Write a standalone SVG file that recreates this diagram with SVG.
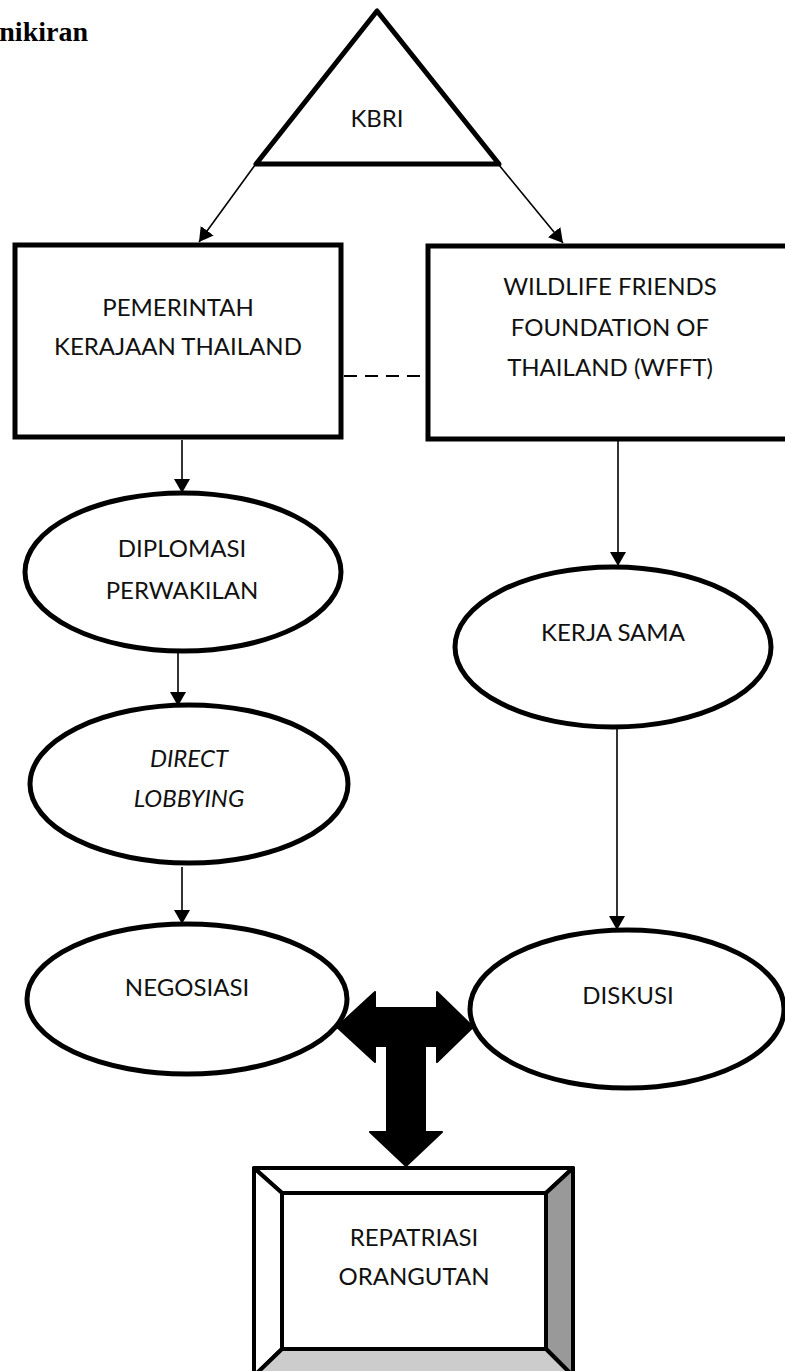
<svg xmlns="http://www.w3.org/2000/svg" width="785" height="1371" viewBox="0 0 785 1371">
<defs>
<marker id="ah" markerUnits="userSpaceOnUse" markerWidth="18" markerHeight="18" viewBox="0 0 18 18" refX="14" refY="9" orient="auto">
<path d="M0,1 L14,9 L0,17 Z" fill="#000"/>
</marker>
</defs>
<style>
.lbl{font-family:Lato,"Open Sans","Liberation Sans",sans-serif;font-size:24px;fill:#111;text-anchor:middle}
.it{font-style:italic}
.shape{fill:#fff;stroke:#000;stroke-width:5}
.ell{fill:#fff;stroke:#000;stroke-width:5}
.conn{stroke:#000;stroke-width:1.6;fill:none}
</style>
<rect width="785" height="1371" fill="#fff"/>
<text x="88" y="41" font-family="'Liberation Serif',serif" font-weight="bold" font-size="28" text-anchor="end" fill="#000">nikiran</text>

<g id="connectors">
<line class="conn" x1="255" y1="165" x2="199" y2="242" marker-end="url(#ah)"/>
<line class="conn" x1="499" y1="165" x2="563" y2="243" marker-end="url(#ah)"/>
<line x1="344" y1="376" x2="427" y2="376" stroke="#000" stroke-width="2" stroke-dasharray="13 8"/>
<line class="conn" x1="182" y1="440" x2="182" y2="493" marker-end="url(#ah)"/>
<line class="conn" x1="178" y1="653" x2="178" y2="706" marker-end="url(#ah)"/>
<line class="conn" x1="182" y1="867" x2="182" y2="924" marker-end="url(#ah)"/>
<line class="conn" x1="618" y1="441" x2="618" y2="566" marker-end="url(#ah)"/>
<line class="conn" x1="617" y1="727" x2="617" y2="930" marker-end="url(#ah)"/>
</g>

<g id="kbri">
<polygon class="shape" points="377,11 256,164 499,164" stroke-linejoin="round"/>
<text class="lbl" x="377" y="127">KBRI</text>
</g>

<g id="pemerintah">
<rect class="shape" x="15" y="245" width="326" height="192"/>
<text class="lbl" x="178" y="316">PEMERINTAH</text>
<text class="lbl" x="178" y="355">KERAJAAN THAILAND</text>
</g>

<g id="wfft">
<rect class="shape" x="428" y="246" width="380" height="193"/>
<text class="lbl" x="610" y="295">WILDLIFE FRIENDS</text>
<text class="lbl" x="610" y="336">FOUNDATION OF</text>
<text class="lbl" x="610" y="376">THAILAND (WFFT)</text>
</g>

<g id="diplomasi">
<ellipse class="ell" cx="183" cy="572" rx="158" ry="79"/>
<text class="lbl" x="182" y="557">DIPLOMASI</text>
<text class="lbl" x="182" y="599">PERWAKILAN</text>
</g>

<g id="direct-lobbying">
<ellipse class="ell" cx="189" cy="784" rx="159" ry="79"/>
<text class="lbl it" x="189" y="767">DIRECT</text>
<text class="lbl it" x="189" y="807">LOBBYING</text>
</g>

<g id="negosiasi">
<ellipse class="ell" cx="187" cy="999" rx="160" ry="75"/>
<text class="lbl" x="187" y="996">NEGOSIASI</text>
</g>

<g id="kerja-sama">
<ellipse class="ell" cx="613" cy="647" rx="158" ry="80"/>
<text class="lbl" x="613" y="641">KERJA SAMA</text>
</g>

<g id="diskusi">
<ellipse class="ell" cx="627" cy="1009" rx="157" ry="79"/>
<text class="lbl" x="628" y="1004">DISKUSI</text>
</g>

<g id="t-arrow">
<polygon points="337,1027 375,992 375,1008 437,1008 437,992 473,1027 437,1062 437,1046 425,1046 425,1132 442,1132 406,1166 370,1132 387,1132 387,1046 375,1046 375,1062" fill="#000" stroke="#000" stroke-width="2" stroke-linejoin="round"/>
</g>

<g id="repatriasi">
<polygon points="254,1168 573,1168 546,1193 282,1193" fill="#fff" stroke="#000" stroke-width="4" stroke-linejoin="round"/>
<polygon points="254,1168 282,1193 282,1349 254,1376" fill="#fff" stroke="#000" stroke-width="4" stroke-linejoin="round"/>
<polygon points="573,1168 573,1376 546,1349 546,1193" fill="#999" stroke="#000" stroke-width="4" stroke-linejoin="round"/>
<polygon points="282,1349 546,1349 573,1376 254,1376" fill="#ccc" stroke="#000" stroke-width="4" stroke-linejoin="round"/>
<rect x="282" y="1193" width="264" height="156" fill="#fff" stroke="#000" stroke-width="4"/>
<text class="lbl" x="414" y="1246">REPATRIASI</text>
<text class="lbl" x="414" y="1285">ORANGUTAN</text>
</g>
</svg>
